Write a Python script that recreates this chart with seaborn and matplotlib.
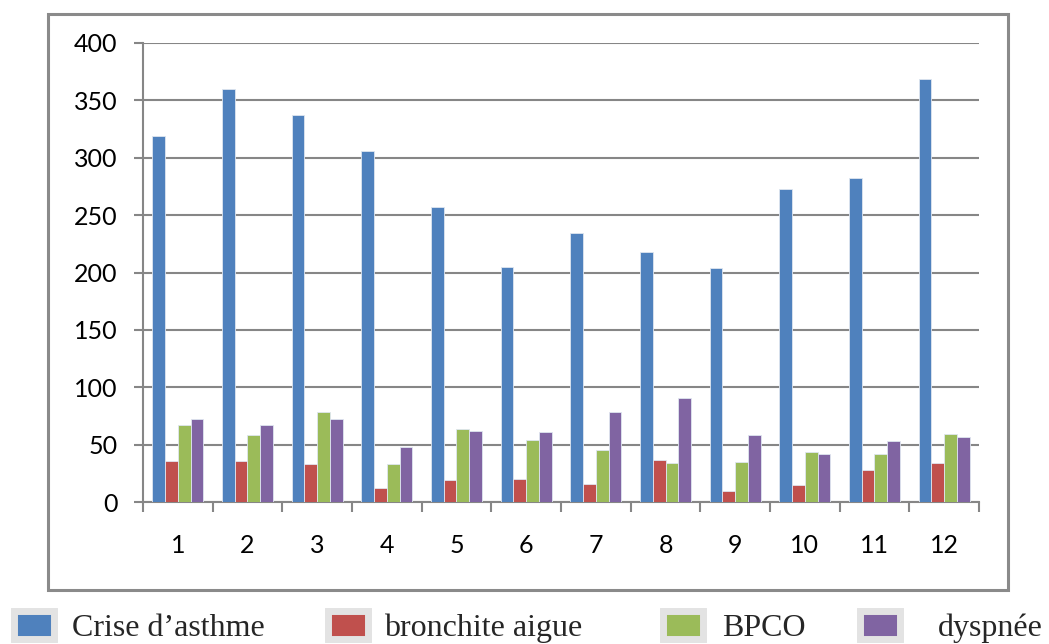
import numpy as np
import pandas as pd
import matplotlib
matplotlib.use("Agg")
import matplotlib.pyplot as plt
import matplotlib.patches as mpatches
import seaborn as sns

months = ["1", "2", "3", "4", "5", "6", "7", "8", "9", "10", "11", "12"]
series = ["Crise d\u2019asthme", "bronchite aigue", "BPCO", "dyspn\u00e9e"]
crise = [319, 360, 337, 306, 257, 205, 234, 218, 204, 273, 282, 369]
bronchite = [36, 36, 33, 12, 19, 20, 16, 37, 10, 15, 28, 34]
bpco = [67, 58, 78, 33, 64, 54, 45, 34, 35, 44, 42, 59]
dyspnee = [72, 67, 72, 48, 62, 61, 78, 91, 58, 42, 53, 57]
colors = ["#4F81BD", "#C0504D", "#9BBB59", "#8064A2"]
yticks = [0, 50, 100, 150, 200, 250, 300, 350, 400]

df = pd.DataFrame({
    "mois": months * 4,
    "serie": np.repeat(series, len(months)),
    "valeur": crise + bronchite + bpco + dyspnee,
})

sns.set_theme(style="white")
plt.rcParams["font.family"] = ["Lato", "DejaVu Sans"]

W, H = 1049, 644
fig = plt.figure(figsize=(W / 100, H / 100), dpi=100)
ax = fig.add_axes([143 / W, 1 - 502 / H, (979 - 143) / W, (502 - 43) / H])

sns.barplot(data=df, x="mois", y="valeur", hue="serie", order=months,
            hue_order=series, palette=colors, saturation=1, width=0.73,
            gap=0, ax=ax, legend=False, zorder=3, edgecolor="#dfe6f0",
            linewidth=0.6)

ax.set_ylim(0, 400)
ax.set_xlim(-0.5, 11.5)
ax.set_xlabel("")
ax.set_ylabel("")
ax.set_yticks(yticks)
ax.set_yticklabels([str(v) for v in yticks], fontsize=18, color="black")
ax.set_xticks(np.arange(-0.5, 12, 1))
ax.set_xticklabels([])
ax.set_xticks(np.arange(12), minor=True)
ax.set_xticklabels(months, minor=True, fontsize=18, color="black")
ax.tick_params(axis="x", which="major", length=7, width=1.5, color="#868686",
               direction="out", bottom=True)
ax.tick_params(axis="x", which="minor", length=0, pad=23)
ax.tick_params(axis="y", length=6.5, width=1.5, color="#868686",
               direction="out", left=True, pad=12)
ax.grid(axis="y", color="#868686", linewidth=1.5, zorder=0)
ax.set_axisbelow(True)
for s in ["top", "right"]:
    ax.spines[s].set_visible(False)
for s in ["left", "bottom"]:
    ax.spines[s].set_color("#868686")
    ax.spines[s].set_linewidth(1.5)

# outer chart box
fig.patches.append(mpatches.Rectangle((48 / W, 1 - 590 / H), (1008 - 48) / W,
                                      (590 - 14) / H, transform=fig.transFigure,
                                      fill=False, edgecolor="#8a8a8a",
                                      linewidth=2.2))

# legend entries placed individually below the box
xs = [14, 328, 663, 860]
pads = [0.55, 0.5, 0.6, 1.2]
for lab, c, x0, p in zip(series, colors, xs, pads):
    h = mpatches.Patch(facecolor=c, edgecolor="#e3e3e3", linewidth=5)
    fig.legend(handles=[h], labels=[lab], loc="center left",
               bbox_to_anchor=(x0 / W, 1 - 627 / H), frameon=False,
               prop={"family": "Liberation Serif", "size": 23},
               handlelength=1.25, handleheight=0.95, handletextpad=p,
               borderpad=0, borderaxespad=0)

fig.savefig("out.png", dpi=100)
